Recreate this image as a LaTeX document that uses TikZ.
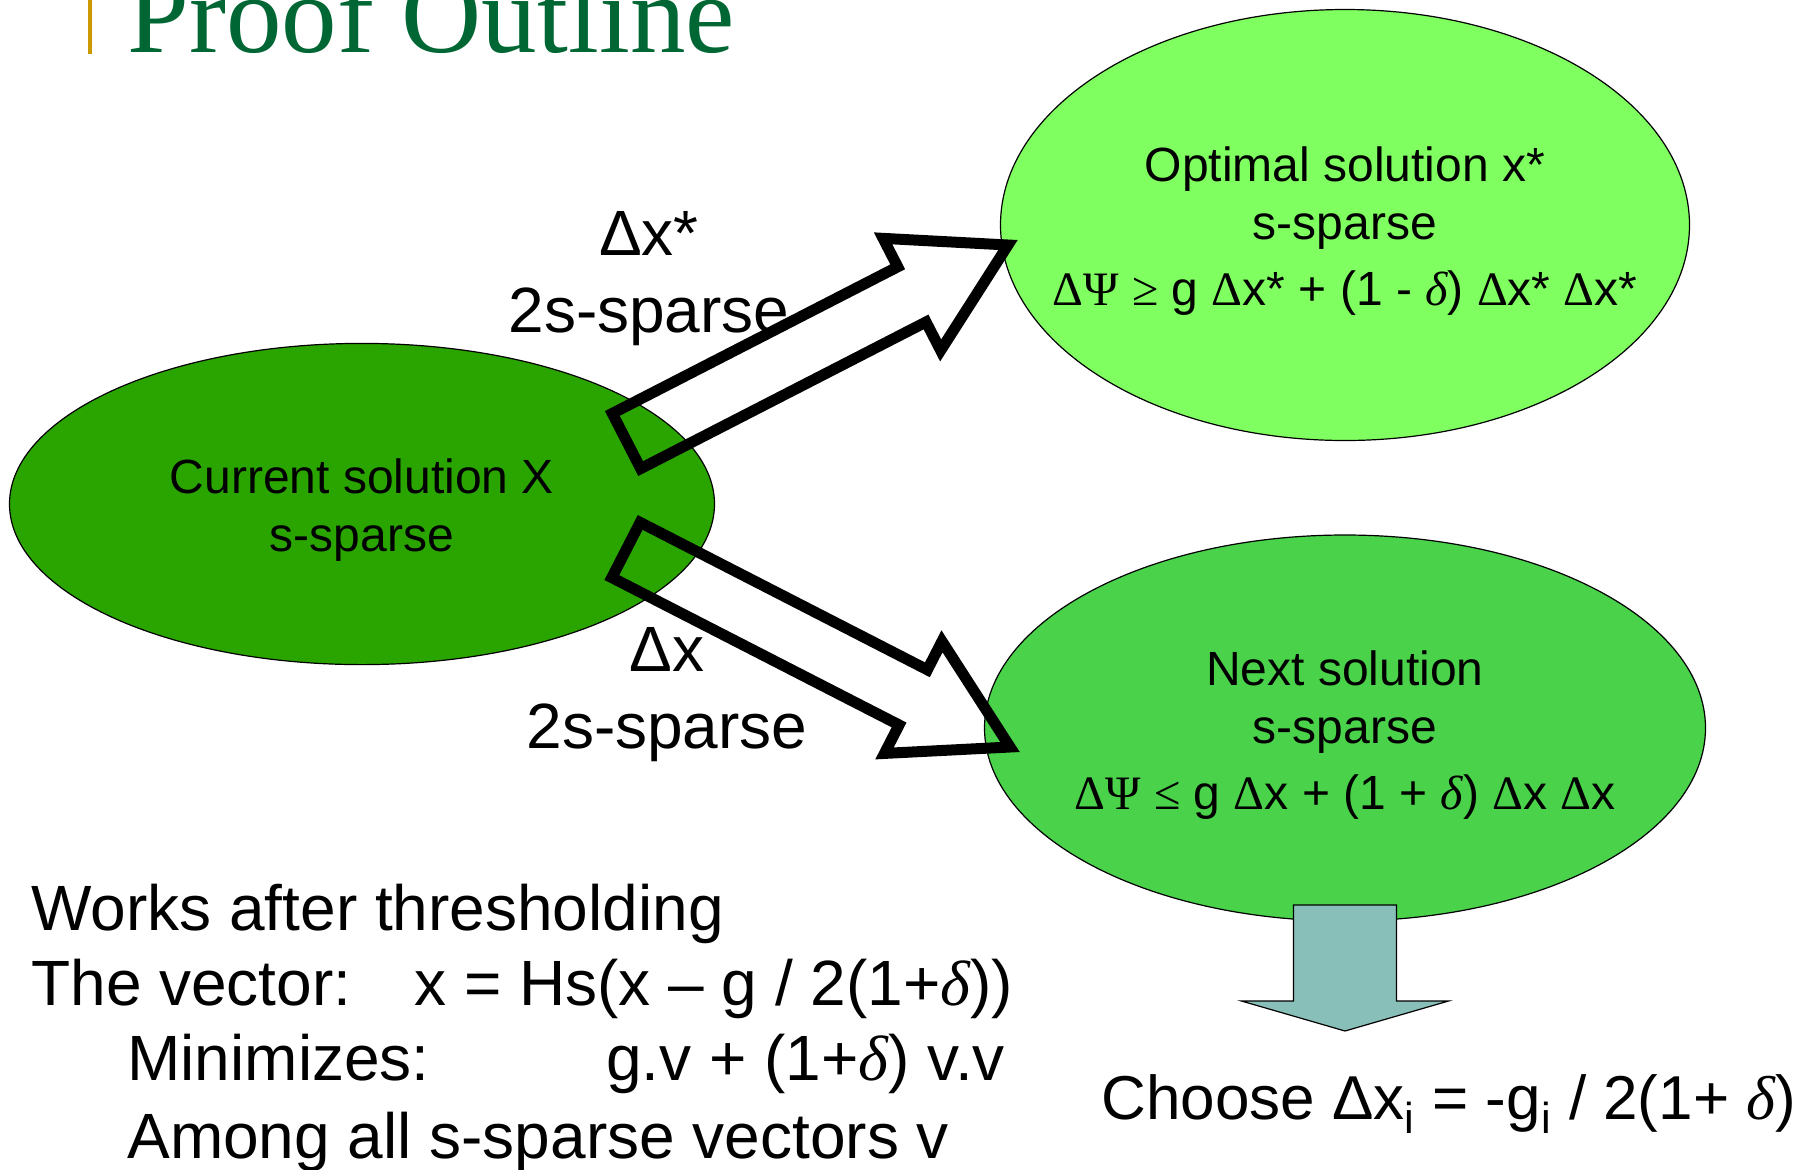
\documentclass[tikz,border=0pt]{standalone}
\usepackage{fontspec}
\setmainfont{Liberation Sans}
\newfontfamily\symfont{Liberation Serif}
\newfontfamily\titlefont{Liberation Serif}
\usetikzlibrary{shapes.geometric,calc}

\definecolor{curgreen}{RGB}{42,165,0}
\definecolor{optgreen}{RGB}{128,255,96}
\definecolor{nextgreen}{RGB}{74,210,74}
\definecolor{tealgrey}{RGB}{136,191,184}
\definecolor{titlegreen}{RGB}{0,102,51}
\definecolor{titlegold}{RGB}{204,153,0}

\newcommand{\dlt}{{\symfont\itshape δ}}
\newcommand{\sD}{{\symfont Δ}}
% hollow or filled block arrow: style, tail, tip, head base pos, shaft half width, head half width
\newcommand{\blockarrow}[6]{%
  \path (#2) -- coordinate[pos=#4] (#2-hb) (#3);
  \draw[#1] ($(#2)!#5!90:(#3)$) -- ($(#2-hb)!#5!90:(#3)$) -- ($(#2-hb)!#6!90:(#3)$) -- (#3)
    -- ($(#2-hb)!#6!-90:(#3)$) -- ($(#2-hb)!#5!-90:(#3)$) -- ($(#2)!#5!-90:(#3)$) -- cycle;
}

\tikzset{
  solution/.style={ellipse, draw=black, line width=0.6pt, inner sep=0pt},
  soltext/.style={align=center, font=\fontsize{24}{29}\selectfont},
  biglabel/.style={align=center, font=\fontsize{32}{38.4}\selectfont},
  bodytext/.style={anchor=base west, inner sep=0pt, font=\fontsize{32}{38.4}\selectfont},
  hollowarrow/.style={draw=black, line width=5.5pt, miter limit=10},
  fillarrow/.style={draw=black, fill=tealgrey, line width=0.6pt}
}

\begin{document}
\begin{tikzpicture}[x=0.5pt, y=-0.5pt]
  \useasboundingbox (0,0) rectangle (1812,1169);

  % title
  \fill[titlegold] (88,0) rectangle (92,54);
  \node[anchor=base west, inner sep=0pt, text=titlegreen, font=\titlefont\fontsize{55.5}{60}\selectfont] (title) at (127,52) {Proof Outline};

  % the three solutions
  \node[solution, fill=curgreen, minimum width=352.5pt, minimum height=160.6pt] (cursol) at (362,504) {};
  \node[soltext] (curtxt) at ($(cursol)+(0,6)$) {Current solution X\\ s-sparse};

  \node[solution, fill=optgreen, minimum width=344.5pt, minimum height=215.5pt] (optsol) at (1345,225) {};
  \node[soltext] (opttxt) at ($(optsol)+(0,6)$) {Optimal solution x*\\ s-sparse\\[4pt]
    \sD{\symfont Ψ} {\symfont ≥} g \sD x* + (1 - \dlt) \sD x* \sD x*};

  \node[solution, fill=nextgreen, minimum width=360.5pt, minimum height=193pt] (nextsol) at (1345,728) {};
  \node[soltext] (nexttxt) at ($(nextsol)+(0,7)$) {Next solution\\ s-sparse\\[4pt]
    \sD{\symfont Ψ} {\symfont ≤} g \sD x + (1 + \dlt) \sD x \sD x};

  % step labels
  \node[biglabel] (dxstar) at (649,279) {Δx*\\2s-sparse};
  \node[biglabel] (dx) at (667,695) {Δx\\2s-sparse};

  % steps
  \coordinate (uptail) at (626.5,441);
  \coordinate (uptip) at (1008,245);
  \blockarrow{hollowarrow}{uptail}{uptip}{0.748}{15.5pt}{31.5pt}
  \coordinate (lowtail) at (626,550);
  \coordinate (lowtip) at (1010,747);
  \blockarrow{hollowarrow}{lowtail}{lowtip}{0.748}{15.5pt}{31.5pt}
  \coordinate (dntop) at (1345,905);
  \coordinate (dntip) at (1345,1031);
  \blockarrow{fillarrow}{dntop}{dntip}{0.762}{25.75pt}{51.75pt}

  \node[bodytext, font=\fontsize{31}{37}\selectfont] (choose) at (1101,1119) {Choose Δx\textsubscript{i} = -g\textsubscript{i} / 2(1+ \dlt)};

  % thresholding remarks
  \node[bodytext] (works) at (31,930) {Works after thresholding};
  \node[bodytext] (vector) at (31,1005) {The vector:};
  \node[bodytext] (vecform) at (414,1005) {x = Hs(x – g / 2(1+\dlt))};
  \node[bodytext] (minim) at (127,1080) {Minimizes:};
  \node[bodytext] (minform) at (606,1080) {g.v + (1+\dlt) v.v};
  \node[bodytext] (among) at (127,1158) {Among all s-sparse vectors v};
\end{tikzpicture}
\end{document}
